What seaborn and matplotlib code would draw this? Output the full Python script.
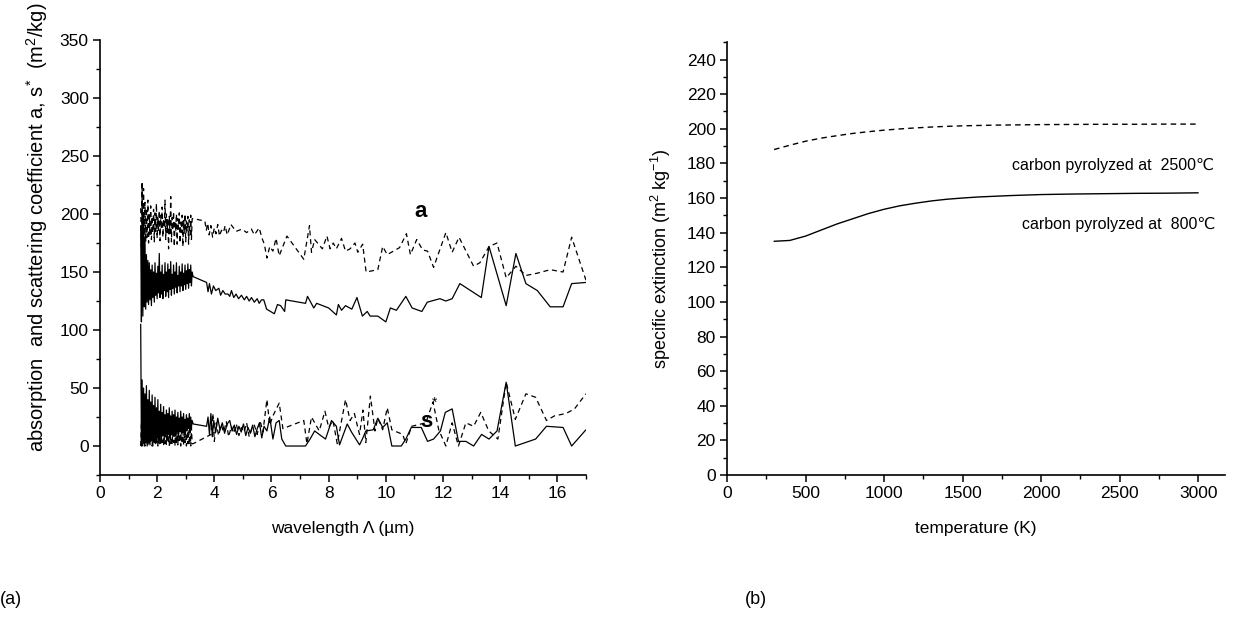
import matplotlib
matplotlib.use("Agg")
import matplotlib.pyplot as plt
import seaborn as sns
from matplotlib.ticker import MultipleLocator

# ---------------- data: panel (a) ----------------
# densely sampled short-wavelength part (shared wavelength grid, µm)
wl_dense = [1.425, 1.45, 1.475, 1.5, 1.525, 1.55, 1.575, 1.6, 1.625, 1.65,
            1.675, 1.7, 1.725, 1.75, 1.775, 1.8, 1.825, 1.85, 1.875, 1.9,
            1.925, 1.95, 1.975, 2.0, 2.025, 2.05, 2.075, 2.1, 2.125, 2.15,
            2.175, 2.2, 2.225, 2.25, 2.275, 2.3, 2.325, 2.35, 2.375, 2.4,
            2.425, 2.45, 2.475, 2.5, 2.525, 2.55, 2.575, 2.6, 2.625, 2.65,
            2.675, 2.7, 2.725, 2.75, 2.775, 2.8, 2.825, 2.85, 2.875, 2.9,
            2.925, 2.95, 2.975, 3.0, 3.025, 3.05, 3.075, 3.1, 3.125, 3.15,
            3.175, 3.2, 3.225]

a1_dense = [190, 107, 226, 112, 200, 120, 178, 118, 165, 124,
            160, 122, 158, 126, 152, 121, 156, 128, 150, 124,
            158, 130, 149, 127, 155, 132, 166, 128, 150, 131,
            156, 127, 148, 134, 158, 129, 150, 133, 157, 128,
            152, 135, 159, 130, 148, 136, 156, 131, 150, 137,
            158, 132, 147, 138, 155, 133, 150, 138, 157, 134,
            149, 139, 156, 135, 151, 140, 157, 136, 152, 141,
            156, 138, 150]
a2_dense = [205, 172, 228, 178, 222, 170, 210, 176, 205, 180,
            212, 175, 200, 182, 207, 178, 198, 184, 204, 176,
            201, 185, 209, 179, 197, 186, 203, 177, 199, 187,
            206, 180, 196, 188, 212, 178, 200, 184, 195, 170,
            198, 183, 215, 176, 197, 186, 202, 172, 194, 185,
            200, 174, 196, 187, 201, 175, 193, 184, 199, 172,
            195, 183, 200, 176, 194, 185, 198, 174, 195, 182,
            199, 178, 196]
s1_dense = [105, 0, 57, 2, 50, 0, 45, 3, 52, 0,
            40, 4, 48, 1, 38, 5, 44, 0, 35, 6,
            42, 2, 33, 7, 40, 3, 30, 8, 36, 4,
            29, 9, 34, 5, 27, 10, 31, 6, 28, 10,
            33, 7, 26, 11, 30, 8, 27, 12, 31, 9,
            25, 13, 29, 10, 24, 13, 30, 11, 25, 14,
            28, 12, 23, 15, 27, 13, 24, 15, 28, 14,
            25, 16, 22]
s2_dense = [0, 20, 0, 25, 1, 22, 0, 24, 2, 21,
            0, 23, 1, 20, 3, 22, 0, 19, 2, 24,
            1, 18, 3, 22, 0, 20, 2, 17, 1, 23,
            3, 19, 0, 21, 2, 18, 1, 22, 3, 17,
            0, 20, 2, 19, 1, 23, 3, 18, 0, 21,
            2, 17, 1, 20, 3, 18, 0, 22, 2, 16,
            1, 19, 3, 17, 0, 20, 2, 18, 1, 21,
            0, 16, 2]

# sparsely sampled long-wavelength part
wl_a1 = [3.26, 3.73, 3.78, 3.83, 3.9, 3.97, 4.05, 4.16, 4.22, 4.3,
         4.38, 4.48, 4.54, 4.6, 4.68, 4.76, 4.85, 4.95, 5.05, 5.13,
         5.22, 5.3, 5.4, 5.5, 5.57, 5.65, 5.73, 5.83, 6.1, 6.21,
         6.32, 6.46, 6.5, 7.19, 7.26, 7.48, 7.58, 8.0, 8.27, 8.34,
         8.45, 8.59, 8.81, 8.99, 9.18, 9.35, 9.45, 9.72, 10.0, 10.16,
         10.37, 10.7, 10.92, 11.26, 11.45, 11.89, 12.1, 12.32, 12.59, 13.34,
         13.61, 14.21, 14.55, 14.9, 15.3, 15.75, 16.2, 16.5, 17.0]
a1 = [146, 141, 133, 140, 131, 138, 134, 136, 130, 134,
      131, 131, 129, 134, 128, 131, 127, 130, 126, 129,
      125, 128, 124, 127, 123, 126, 126, 118, 114, 122,
      121, 116, 126, 123, 129, 119, 123, 119, 113, 122,
      117, 121, 118, 128, 112, 116, 112, 112, 107, 119,
      117, 129, 119, 116, 124, 127, 125, 127, 140, 128,
      172, 121, 166, 140, 134, 120, 120, 140, 141]

wl_a2 = [3.26, 3.67, 3.72, 3.77, 3.82, 3.88, 3.94, 4.0, 4.06, 4.12,
         4.18, 4.25, 4.32, 4.38, 4.45, 4.54, 4.58, 4.76, 4.97, 5.13,
         5.3, 5.4, 5.57, 5.67, 5.75, 5.84, 5.94, 6.05, 6.16, 6.27,
         6.54, 7.13, 7.33, 7.4, 7.51, 7.78, 7.94, 8.05, 8.16, 8.27,
         8.45, 8.59, 8.75, 8.92, 9.02, 9.19, 9.31, 9.72, 9.89, 10.05,
         10.48, 10.72, 10.86, 11.08, 11.29, 11.46, 11.67, 12.1, 12.32, 12.56,
         13.07, 13.29, 13.61, 13.89, 14.21, 14.55, 14.9, 15.3, 15.75, 16.2,
         16.5, 17.0]
a2 = [196, 194, 186, 192, 182, 190, 180, 188, 183, 191,
      181, 186, 184, 190, 182, 188, 191, 185, 187, 184,
      187, 182, 188, 179, 174, 162, 172, 168, 179, 164,
      181, 161, 190, 167, 178, 170, 181, 170, 175, 170,
      179, 168, 170, 175, 167, 174, 150, 152, 172, 165,
      171, 183, 165, 178, 169, 168, 154, 184, 167, 180,
      155, 158, 172, 175, 145, 155, 147, 149, 152, 150,
      180, 143]

wl_s1 = [3.26, 3.73, 3.78, 3.83, 3.88, 3.93, 3.98, 4.05, 4.12, 4.2,
         4.28, 4.36, 4.45, 4.54, 4.62, 4.7, 4.78, 4.86, 4.94, 5.02,
         5.1, 5.18, 5.26, 5.34, 5.42, 5.5, 5.58, 5.66, 5.74, 5.84,
         5.94, 6.05, 6.16, 6.27, 6.36, 6.5, 7.19, 7.35, 7.51, 7.67,
         7.89, 8.0, 8.1, 8.27, 8.38, 8.65, 8.8, 9.08, 9.18, 9.3,
         9.56, 9.72, 9.89, 10.05, 10.21, 10.54, 10.7, 10.89, 11.24, 11.46,
         11.67, 11.91, 12.08, 12.32, 12.54, 12.8, 13.07, 13.35, 13.61, 13.89,
         14.21, 14.53, 15.24, 15.62, 16.2, 16.5, 17.0]
s1 = [19, 17, 25, 10, 28, 8, 22, 12, 24, 14,
      20, 11, 19, 22, 13, 18, 10, 17, 12, 19,
      9, 16, 11, 18, 8, 15, 20, 7, 17, 13,
      25, 6, 20, 22, 6, 0, 0, 6, 13, 10,
      6, 14, 22, 17, 1, 19, 12, 1, 6, 13,
      14, 24, 16, 20, 0, 0, 6, 16, 16, 4,
      6, 13, 29, 32, 4, 4, 0, 10, 6, 13,
      55, 0, 6, 17, 16, 0, 14]

wl_s2 = [3.26, 3.89, 3.95, 4.0, 4.07, 4.15, 4.24, 4.33, 4.42, 4.5,
         4.6, 4.68, 4.77, 4.86, 4.95, 5.04, 5.13, 5.22, 5.31, 5.4,
         5.5, 5.6, 5.7, 5.84, 5.94, 6.05, 6.27, 6.4, 7.13, 7.24,
         7.4, 7.67, 7.87, 8.0, 8.15, 8.3, 8.59, 8.75, 8.9, 9.08,
         9.2, 9.3, 9.46, 9.62, 9.72, 9.89, 10.05, 10.21, 10.59, 10.7,
         10.9, 11.4, 11.65, 11.85, 12.1, 12.32, 12.54, 12.8, 13.07, 13.32,
         13.6, 13.92, 14.21, 14.53, 14.9, 15.24, 15.62, 15.9, 16.3, 16.6,
         17.0]
s2 = [2, 10, 28, 4, 20, 9, 18, 12, 21, 8,
      17, 11, 19, 9, 16, 12, 20, 8, 15, 18,
      10, 22, 12, 40, 18, 26, 37, 15, 22, 2,
      25, 13, 30, 16, 22, 2, 40, 22, 28, 10,
      31, 3, 43, 13, 24, 14, 33, 14, 10, 2,
      17, 20, 38, 14, 0, 20, 0, 20, 17, 29,
      13, 6, 55, 23, 45, 42, 22, 26, 28, 32,
      45]

# ---------------- data: panel (b) ----------------
temp_K = [300, 400, 500, 600, 700, 800, 900, 1000, 1100, 1200,
          1300, 1400, 1500, 1600, 1700, 1800, 1900, 2000, 2200, 2400,
          2600, 2800, 3000]
ext_800C = [135, 135.5, 138, 141.5, 145, 148, 151, 153.5, 155.5, 157,
            158.3, 159.3, 160, 160.6, 161, 161.4, 161.7, 162, 162.3, 162.5,
            162.7, 162.8, 163]
ext_2500C = [188, 190.5, 192.8, 194.6, 196, 197.3, 198.3, 199.2, 199.9, 200.5,
             201, 201.4, 201.7, 201.9, 202.1, 202.2, 202.3, 202.4, 202.5, 202.6,
             202.6, 202.7, 202.7]

# ---------------- style ----------------
sns.set_theme(style="ticks")
plt.rcParams['font.family'] = ['Liberation Sans', 'DejaVu Sans']
plt.rcParams['mathtext.fontset'] = 'custom'
plt.rcParams['mathtext.rm'] = 'Liberation Sans'
plt.rcParams['mathtext.it'] = 'Liberation Sans:italic'
plt.rcParams['mathtext.bf'] = 'Liberation Sans:bold'
plt.rcParams['text.color'] = 'black'
plt.rcParams['axes.labelcolor'] = 'black'

FS = 12.5
SOLID = '-'
DASH = (0, (4, 3))

fig = plt.figure(figsize=(12.48, 6.3), dpi=100)
ax1 = fig.add_axes([0.0801, 0.246, 0.3894, 0.6905])
ax2 = fig.add_axes([0.5825, 0.246, 0.399, 0.687])


def draw(ax, x, y, ls, lw=0.9):
    sns.lineplot(x=x, y=y, ax=ax, color='black', linewidth=lw, linestyle=ls,
                 estimator=None, sort=False, legend=False)


draw(ax1, wl_dense + wl_a1, a1_dense + a1, SOLID)
draw(ax1, wl_dense + wl_a2, a2_dense + a2, DASH)
draw(ax1, wl_dense + wl_s1, s1_dense + s1, SOLID)
draw(ax1, wl_dense + wl_s2, s2_dense + s2, DASH)

draw(ax2, temp_K, ext_800C, SOLID, 1.0)
draw(ax2, temp_K, ext_2500C, DASH, 1.0)

for ax in (ax1, ax2):
    sns.despine(ax=ax)
    for sp in ('left', 'bottom'):
        ax.spines[sp].set_linewidth(1.2)
        ax.spines[sp].set_color('black')
    ax.tick_params(which='major', direction='out', length=5, width=1.1,
                   labelsize=FS, colors='black', pad=3)
    ax.tick_params(which='minor', direction='out', length=3, width=1.0,
                   colors='black')

ax1.set_xlim(0, 17)
ax1.set_ylim(-25, 350)
ax1.xaxis.set_major_locator(MultipleLocator(2))
ax1.xaxis.set_minor_locator(MultipleLocator(1))
ax1.yaxis.set_major_locator(MultipleLocator(50))
ax1.yaxis.set_minor_locator(MultipleLocator(25))
ax1.set_xlabel('wavelength \u039b (\u00b5m)', fontsize=12.5, labelpad=14)
ax1.set_ylabel('absorption  and scattering coefficient a, s$^{*}$  (m$^{2}$/kg)',
               fontsize=14.5)
ax1.yaxis.set_label_coords(-0.103, 0.57)
ax1.text(11.2, 202, 'a', fontsize=16, fontweight='bold', ha='center', va='center')
ax1.text(11.4, 21, 's', fontsize=16, fontweight='bold', ha='center', va='center',
         zorder=10)
ax1.text(11.72, 37, '*', fontsize=10, ha='center', va='center', zorder=10)

ax2.set_xlim(0, 3170)
ax2.set_ylim(0, 250)
ax2.xaxis.set_major_locator(MultipleLocator(500))
ax2.xaxis.set_minor_locator(MultipleLocator(250))
ax2.yaxis.set_major_locator(MultipleLocator(20))
ax2.yaxis.set_minor_locator(MultipleLocator(10))
ax2.set_xlabel('temperature (K)', fontsize=12.5, labelpad=14)
ax2.set_ylabel('specific extinction (m$^{2}$ kg$^{-1}$)', fontsize=13, labelpad=10)
ax2.text(1815, 179, 'carbon pyrolyzed at  2500\u2103', fontsize=11.5,
         ha='left', va='center')
ax2.text(1879, 144.5, 'carbon pyrolyzed at  800\u2103', fontsize=11.5,
         ha='left', va='center')

fig.text(0.0, 0.048, '(a)', fontsize=13, ha='left', va='center')
fig.text(0.597, 0.048, '(b)', fontsize=13, ha='left', va='center')

fig.savefig('out.png', dpi=100)
